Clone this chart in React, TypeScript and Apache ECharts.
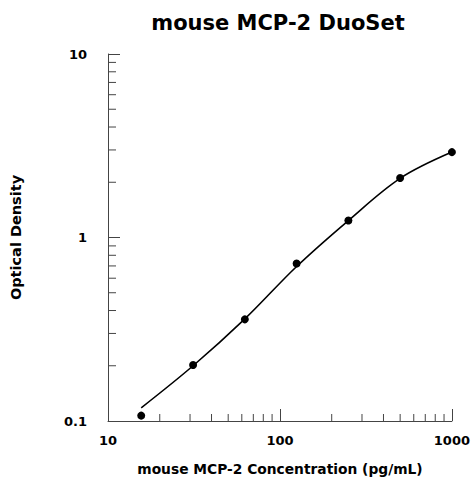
import React, { useEffect, useRef } from "react";
import * as echarts from "echarts";

const titleText = "mouse MCP-2 DuoSet";
const xAxisName = "mouse MCP-2 Concentration (pg/mL)";
const yAxisName = "Optical Density";

const concentrations = [15.6, 31.25, 62.5, 125, 250, 500, 1000];
const opticalDensity = [0.107, 0.202, 0.358, 0.722, 1.237, 2.11, 2.92];

// fitted curve values at each standard
const curveX = [15.6, 31.25, 62.5, 125, 250, 500, 1000];
const curveY = [0.118, 0.2, 0.36, 0.695, 1.237, 2.1, 2.92];

const xMinorTicks = [20, 30, 40, 50, 60, 70, 80, 90, 200, 300, 400, 500, 600, 700, 800, 900];
const yMinorTicks = [0.2, 0.3, 0.4, 0.5, 0.6, 0.7, 0.8, 0.9, 2, 3, 4, 5, 6, 7, 8, 9];

const FONT = "'DejaVu Sans', 'Liberation Sans', Arial, sans-serif";
const AXIS_COLOR = "#444";

export default function App() {
  const ref = useRef<HTMLDivElement>(null);
  useEffect(() => {
    if (!ref.current) return;
    const chart = echarts.init(ref.current, null, { renderer: "svg" });
    const minorData: any[] = [
      ...xMinorTicks.map((v) => [v, 0.1, 0]),
      ...yMinorTicks.map((v) => [10, v, 1]),
    ];
    chart.setOption({
      animation: false,
      backgroundColor: "#fff",
      graphic: [
        {
          type: "text",
          x: 278,
          y: 12,
          style: {
            text: titleText,
            fontFamily: FONT,
            fontWeight: "bold",
            fontSize: 21,
            fill: "#000",
            textAlign: "center",
            textVerticalAlign: "top",
          },
        },
      ],
      grid: { left: 107, right: 21, top: 54, bottom: 59, containLabel: false },
      xAxis: {
        type: "log",
        logBase: 10,
        min: 10,
        max: 1000,
        name: xAxisName,
        nameLocation: "middle",
        nameGap: 41,
        nameTextStyle: { fontFamily: FONT, fontWeight: "bold", fontSize: 13.8, color: "#000" },
        axisLine: { show: true, lineStyle: { color: AXIS_COLOR, width: 1 } },
        axisTick: { show: true, inside: true, length: 12, lineStyle: { color: AXIS_COLOR } },
        axisLabel: {
          fontFamily: FONT,
          fontWeight: "bold",
          fontSize: 13,
          color: "#000",
          margin: 13,
          formatter: (v: number) => String(Math.round(v)),
        },
        splitLine: { show: false },
      },
      yAxis: {
        type: "log",
        logBase: 10,
        min: 0.1,
        max: 10,
        name: yAxisName,
        nameLocation: "middle",
        nameGap: 85,
        nameRotate: 90,
        nameTextStyle: { fontFamily: FONT, fontWeight: "bold", fontSize: 14.5, color: "#000" },
        axisLine: { show: true, lineStyle: { color: AXIS_COLOR, width: 1 } },
        axisTick: { show: true, inside: true, length: 12, lineStyle: { color: AXIS_COLOR } },
        axisLabel: {
          fontFamily: FONT,
          fontWeight: "bold",
          fontSize: 13,
          color: "#000",
          margin: 21,
          formatter: (v: number) => (v < 1 ? v.toFixed(1) : String(Math.round(v))),
        },
        splitLine: { show: false },
      },
      series: [
        {
          type: "custom",
          silent: true,
          clip: false,
          data: minorData,
          renderItem: (params: any, api: any) => {
            const p = api.coord([api.value(0), api.value(1)]);
            const kind = api.value(2);
            const shape =
              kind === 0
                ? { x1: p[0], y1: p[1], x2: p[0], y2: p[1] - 7 }
                : { x1: p[0], y1: p[1], x2: p[0] + 8, y2: p[1] };
            return {
              type: "line",
              shape,
              style: { stroke: AXIS_COLOR, lineWidth: 1 },
            };
          },
          z: 1,
        },
        {
          type: "line",
          data: curveX.map((x, i) => [x, curveY[i]]),
          smooth: 0.35,
          showSymbol: false,
          symbol: "none",
          lineStyle: { color: "#000", width: 1.6 },
          z: 2,
        },
        {
          type: "scatter",
          data: concentrations.map((x, i) => [x, opticalDensity[i]]),
          symbol: "circle",
          symbolSize: 8,
          itemStyle: { color: "#000", opacity: 1 },
          z: 3,
        },
      ],
    });
    return () => chart.dispose();
  }, []);
  return <div ref={ref} style={{ width: 473, height: 481, position: "absolute", left: 0, top: 0 }} />;
}
